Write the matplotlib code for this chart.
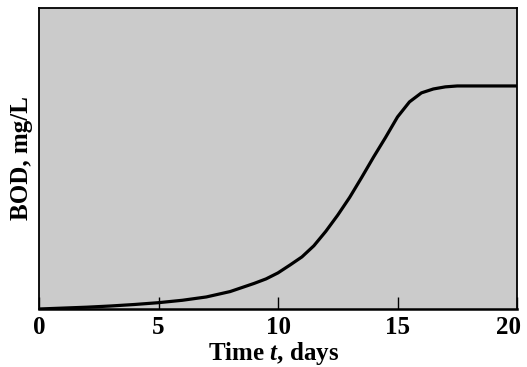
import matplotlib
matplotlib.use("Agg")
import matplotlib.pyplot as plt
from matplotlib.transforms import ScaledTranslation

# Data (BOD as fraction of axis height)
days = [0, 1, 2, 3, 4, 5, 6, 7, 8, 9, 9.5, 10, 10.5, 11, 11.5, 12, 12.5, 13, 13.5,
        14, 14.5, 15, 15.5, 16, 16.5, 17, 17.5, 18, 19, 20]
bod = [0.0, 0.003, 0.006, 0.010, 0.015, 0.021, 0.029, 0.040, 0.058, 0.085, 0.100,
       0.120, 0.146, 0.173, 0.210, 0.258, 0.312, 0.371, 0.437, 0.505, 0.570, 0.638,
       0.688, 0.718, 0.731, 0.738, 0.741, 0.741, 0.741, 0.741]
xticks = [0, 5, 10, 15, 20]
xlabel = "Time $\\mathit{t}$, days"
ylabel = "BOD, mg/L"

plt.rcParams['font.family'] = ['Liberation Serif', 'DejaVu Serif']
plt.rcParams['mathtext.fontset'] = 'custom'
plt.rcParams['mathtext.it'] = 'Liberation Serif:italic:bold'
plt.rcParams['mathtext.rm'] = 'Liberation Serif:bold'

fig = plt.figure(figsize=(5.27, 3.67), dpi=100)
ax = fig.add_axes([39/527, 1-309/367, (517-39)/527, (309-8)/367])
ax.set_facecolor('#cbcbcb')
ax.plot(days, bod, color='black', lw=2.3, solid_joinstyle='round')
ax.set_xlim(0, 20)
ax.set_ylim(0, 1)
ax.set_xticks(xticks)
ax.set_xticklabels([str(t) for t in xticks], fontsize=18, fontweight='bold')
ax.set_yticks([])
ax.tick_params(axis='x', direction='in', length=8.5, width=1.0, pad=5)
for s in ax.spines.values():
    s.set_linewidth(1.3)
ax.spines['bottom'].set_linewidth(1.8)
ax.set_xlabel(xlabel, fontsize=18, fontweight='bold', labelpad=1)
ax.set_ylabel(ylabel, fontsize=18, fontweight='bold', labelpad=4)
ax.xaxis.label.set_x(0.49)

# shift the last tick label left so it stays inside the figure
last = ax.get_xticklabels()[-1]
last.set_transform(last.get_transform() + ScaledTranslation(-9/100, 0, fig.dpi_scale_trans))

fig.savefig("out.png", dpi=100)
